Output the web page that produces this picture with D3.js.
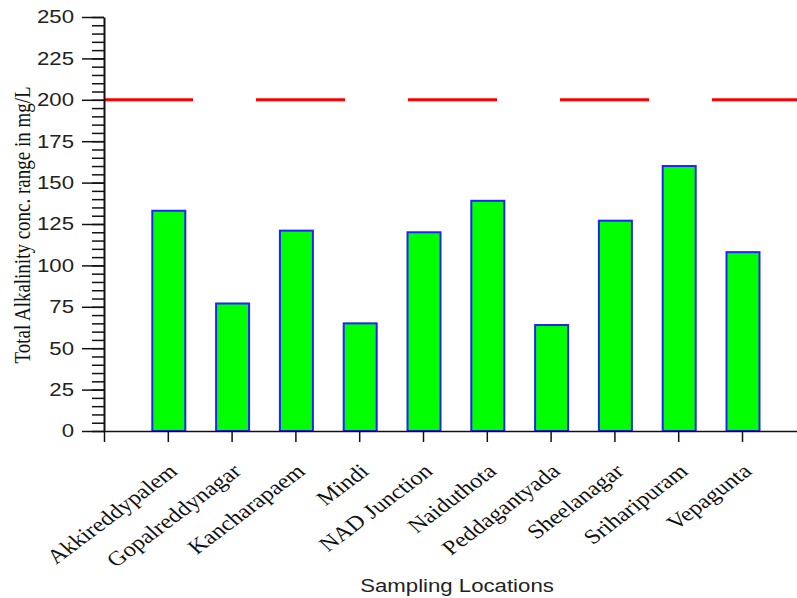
<!DOCTYPE html>
<html>
<head>
<meta charset="utf-8">
<script src="https://cdn.jsdelivr.net/npm/d3@7"></script>
<style>
  html, body { margin: 0; padding: 0; background: #fff; }
  svg { display: block; }
</style>
</head>
<body>
<svg id="chart" width="797" height="598"></svg>
<script>
// Sampling locations and total alkalinity (mg/L)
const categories = [
  "Akkireddypalem", "Gopalreddynagar", "Kancharapaem", "Mindi", "NAD Junction",
  "Naiduthota", "Peddagantyada", "Sheelanagar", "Sriharipuram", "Vepagunta"
];
const alkalinity = [133, 77, 121, 65, 120, 139, 64, 127, 160, 108];
const yTicks = [0, 25, 50, 75, 100, 125, 150, 175, 200, 225, 250];
const yMinorTicks = d3.range(0, 251, 5);
const permissibleLimit = 200;

const svg = d3.select("#chart");
const stretch = 1.2; // horizontal text stretch

const x = d3.scaleLinear().domain([0, 11]).range([104, 104 + 11 * 63.8]);
const y = d3.scaleLinear().domain([0, 250]).range([431, 17]);

const sans = "'Liberation Sans', Arial, sans-serif";
const serif = "'Liberation Serif', 'Times New Roman', serif";

// bars
const barW = 33;
svg.append("g").selectAll("rect")
  .data(alkalinity)
  .join("rect")
  .attr("x", (d, i) => x(i + 1) - barW / 2 + 1)
  .attr("y", d => y(d))
  .attr("width", barW)
  .attr("height", d => y(0) - y(d))
  .attr("fill", "#00ff00")
  .attr("stroke", "#2222ff")
  .attr("stroke-width", 2);

// permissible limit (dashed red line)
svg.append("line")
  .attr("x1", x(0)).attr("x2", x(11))
  .attr("y1", y(permissibleLimit)).attr("y2", y(permissibleLimit))
  .attr("stroke", "#ff0000")
  .attr("stroke-width", 3)
  .attr("stroke-dasharray", "89,63");

// y axis: minor ticks
const yMinor = svg.append("g")
  .attr("transform", `translate(${x(0)},0)`)
  .call(d3.axisLeft(y).tickValues(yMinorTicks).tickSize(12).tickSizeOuter(0).tickFormat(""));
yMinor.select(".domain").remove();
yMinor.selectAll("line").attr("stroke", "#111").attr("stroke-width", 1.5);

// y axis: major ticks and labels
const yMajor = svg.append("g")
  .attr("transform", `translate(${x(0)},0)`)
  .call(d3.axisLeft(y).tickValues(yTicks).tickSize(22).tickSizeOuter(0));
yMajor.select(".domain").attr("stroke", "#111").attr("stroke-width", 2);
yMajor.selectAll("line").attr("stroke", "#111").attr("stroke-width", 1.5);
yMajor.selectAll("text")
  .attr("x", 0)
  .attr("transform", `translate(-30,0) scale(${stretch},1)`)
  .attr("font-family", sans)
  .attr("font-size", 18.5)
  .attr("fill", "#222");

// x axis
const xAxis = svg.append("g")
  .attr("transform", `translate(0,${y(0)})`)
  .call(d3.axisBottom(x).tickValues(d3.range(0, 11)).tickSize(11).tickSizeOuter(0).tickFormat(""));
xAxis.select(".domain").attr("stroke", "#111").attr("stroke-width", 1.5);
xAxis.selectAll("line").attr("stroke", "#111").attr("stroke-width", 1.5);

// category labels
svg.append("g").selectAll("text")
  .data(categories)
  .join("text")
  .attr("transform", (d, i) => `translate(${x(i + 1) + 11},${y(0) + 42}) scale(${stretch},1) rotate(-42)`)
  .attr("text-anchor", "end")
  .attr("font-family", serif)
  .attr("font-size", 20.5)
  .attr("fill", "#111")
  .text(d => d);

// axis titles
svg.append("text")
  .attr("transform", `translate(457,592) scale(${stretch},1)`)
  .attr("text-anchor", "middle")
  .attr("font-family", sans)
  .attr("font-size", 18.5)
  .attr("fill", "#222")
  .text("Sampling Locations");

svg.append("text")
  .attr("transform", `translate(30,225) scale(${stretch},1) rotate(-90)`)
  .attr("text-anchor", "middle")
  .attr("font-family", serif)
  .attr("font-size", 19)
  .attr("fill", "#111")
  .text("Total Alkalinity conc. range in mg/L");
</script>
</body>
</html>
